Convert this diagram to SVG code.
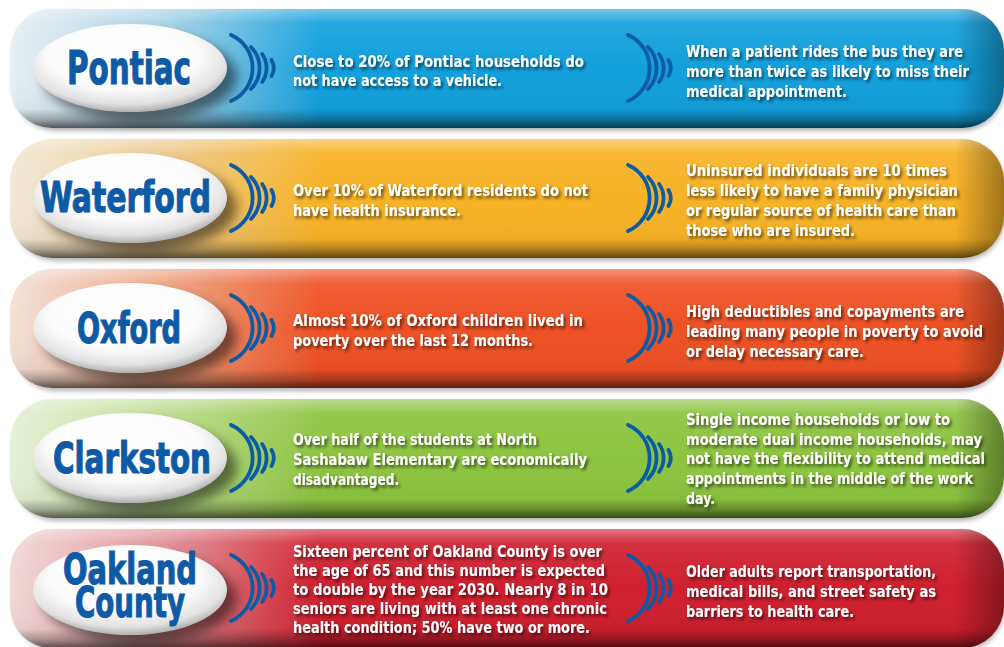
<svg xmlns="http://www.w3.org/2000/svg" xmlns:xlink="http://www.w3.org/1999/xlink" width="1004" height="647" viewBox="0 0 1004 647">
<style>
.t{fill:#fff;font-family:"Liberation Sans Narrow","DejaVu Sans Condensed","Liberation Sans",Arial,sans-serif;font-stretch:condensed;font-weight:bold;font-size:16.5px}
.h{fill:#0d5ba6;stroke:#0d5ba6;stroke-width:1.1;font-family:"Liberation Sans Narrow","DejaVu Sans Condensed","Liberation Sans",Arial,sans-serif;font-stretch:condensed;font-weight:bold}
.shade{fill:url(#gV)}
.rend{fill:url(#gR)}
.ell{fill:url(#gEl)}
.eshadow{fill:#000;opacity:0.5;filter:url(#blur)}
.bshadow{fill:#000;opacity:0.3;filter:url(#blur2)}
.sig path{fill:none;stroke:#0b5ca4;stroke-width:3.8;stroke-linecap:round}
</style>
<defs>
<filter id="ts" x="-5%" y="-40%" width="115%" height="200%"><feDropShadow dx="2" dy="2.5" stdDeviation="1.6" flood-color="#000" flood-opacity="0.6"/></filter>
<filter id="blur" x="-30%" y="-40%" width="160%" height="180%"><feGaussianBlur stdDeviation="6"/></filter>
<filter id="blur2" x="-5%" y="-20%" width="110%" height="140%"><feGaussianBlur stdDeviation="2.5"/></filter>
<linearGradient id="gV" x1="0" y1="0" x2="0" y2="1">
<stop offset="0" stop-color="#fff" stop-opacity="0.4"/>
<stop offset="0.12" stop-color="#fff" stop-opacity="0.08"/>
<stop offset="0.5" stop-color="#fff" stop-opacity="0"/>
<stop offset="0.84" stop-color="#000" stop-opacity="0.04"/>
<stop offset="0.93" stop-color="#000" stop-opacity="0.3"/>
<stop offset="1" stop-color="#000" stop-opacity="0.62"/>
</linearGradient>
<linearGradient id="gR" gradientUnits="userSpaceOnUse" x1="955" y1="0" x2="1004" y2="0">
<stop offset="0" stop-color="#000" stop-opacity="0"/>
<stop offset="1" stop-color="#000" stop-opacity="0.35"/>
</linearGradient>
<radialGradient id="gEl" cx="0.48" cy="0.4" r="0.62" fx="0.45" fy="0.28">
<stop offset="0" stop-color="#fff"/>
<stop offset="0.62" stop-color="#fcfcfc"/>
<stop offset="0.85" stop-color="#e2e2e2"/>
<stop offset="1" stop-color="#a4a4a4"/>
</radialGradient>
<linearGradient id="g1" gradientUnits="userSpaceOnUse" x1="10" y1="0" x2="320" y2="0">
<stop offset="0" stop-color="#e8eff2"/><stop offset="0.5" stop-color="#a6d1e5"/><stop offset="1" stop-color="#12a0dc"/>
</linearGradient>
<linearGradient id="g2" gradientUnits="userSpaceOnUse" x1="10" y1="0" x2="320" y2="0">
<stop offset="0" stop-color="#f1e8d6"/><stop offset="0.5" stop-color="#ecc98a"/><stop offset="1" stop-color="#f7b226"/>
</linearGradient>
<linearGradient id="g3" gradientUnits="userSpaceOnUse" x1="10" y1="0" x2="320" y2="0">
<stop offset="0" stop-color="#f3e0d6"/><stop offset="0.5" stop-color="#eca27f"/><stop offset="1" stop-color="#ee5124"/>
</linearGradient>
<linearGradient id="g4" gradientUnits="userSpaceOnUse" x1="10" y1="0" x2="320" y2="0">
<stop offset="0" stop-color="#e6f0d8"/><stop offset="0.5" stop-color="#bcdb8e"/><stop offset="1" stop-color="#8cc43f"/>
</linearGradient>
<linearGradient id="g5" gradientUnits="userSpaceOnUse" x1="10" y1="0" x2="320" y2="0">
<stop offset="0" stop-color="#f2d8d8"/><stop offset="0.5" stop-color="#de8e92"/><stop offset="1" stop-color="#cf1f2e"/>
</linearGradient>
<g id="sig" class="sig">
<path d="M0,-33 A36,36 0 0 1 0,33"/>
<path d="M20,-21 A30,30 0 0 1 20,21"/>
<path d="M31.1,-14 A24,24 0 0 1 31.1,14"/>
<path d="M40.5,-8 A16,16 0 0 1 40.5,8"/>
</g>
</defs>
<rect width="1004" height="647" fill="#fff"/>

<g id="row-pontiac">
<rect class="bshadow" x="14" y="12" width="990" height="119" rx="42"/>
<rect x="10" y="9" width="994" height="119" rx="42" fill="url(#g1)"/>
<rect class="shade" x="10" y="9" width="994" height="119" rx="42"/>
<rect class="rend" x="10" y="9" width="994" height="119" rx="42"/>
<g id="node-pontiac">
<ellipse class="eshadow" cx="140" cy="77" rx="97" ry="44"/>
<ellipse class="ell" cx="130" cy="68" rx="97" ry="44"/>
<text class="h" x="67" y="84" font-size="46" textLength="124" lengthAdjust="spacingAndGlyphs">Pontiac</text>
</g>
<g id="text-pontiac" filter="url(#ts)">
<text class="t" x="293" y="66.5" textLength="291" lengthAdjust="spacingAndGlyphs">Close to 20% of Pontiac households do</text>
<text class="t" x="293" y="86" textLength="209" lengthAdjust="spacingAndGlyphs">not have access to a vehicle.</text>
<text class="t" x="686" y="57" textLength="277" lengthAdjust="spacingAndGlyphs">When a patient rides the bus they are</text>
<text class="t" x="686" y="77" textLength="283" lengthAdjust="spacingAndGlyphs">more than twice as likely to miss their</text>
<text class="t" x="686" y="96.5" textLength="161" lengthAdjust="spacingAndGlyphs">medical appointment.</text>
</g>
</g>

<g id="row-waterford">
<rect class="bshadow" x="14" y="142" width="990" height="119" rx="42"/>
<rect x="10" y="139" width="994" height="119" rx="42" fill="url(#g2)"/>
<rect class="shade" x="10" y="139" width="994" height="119" rx="42"/>
<rect class="rend" x="10" y="139" width="994" height="119" rx="42"/>
<g id="node-waterford">
<ellipse class="eshadow" cx="140" cy="207" rx="97" ry="44"/>
<ellipse class="ell" cx="130" cy="198" rx="97" ry="45"/>
<text class="h" x="40" y="212" font-size="42" textLength="171" lengthAdjust="spacingAndGlyphs">Waterford</text>
</g>
<g id="text-waterford" filter="url(#ts)">
<text class="t" x="293" y="196" textLength="295" lengthAdjust="spacingAndGlyphs">Over 10% of Waterford residents do not</text>
<text class="t" x="293" y="215.5" textLength="168" lengthAdjust="spacingAndGlyphs">have health insurance.</text>
<text class="t" x="686" y="176" textLength="261" lengthAdjust="spacingAndGlyphs">Uninsured individuals are 10 times</text>
<text class="t" x="686" y="196" textLength="272" lengthAdjust="spacingAndGlyphs">less likely to have a family physician</text>
<text class="t" x="686" y="216" textLength="270" lengthAdjust="spacingAndGlyphs">or regular source of health care than</text>
<text class="t" x="686" y="235.5" textLength="169" lengthAdjust="spacingAndGlyphs">those who are insured.</text>
</g>
</g>

<g id="row-oxford">
<rect class="bshadow" x="14" y="272" width="990" height="119" rx="42"/>
<rect x="10" y="269" width="994" height="119" rx="42" fill="url(#g3)"/>
<rect class="shade" x="10" y="269" width="994" height="119" rx="42"/>
<rect class="rend" x="10" y="269" width="994" height="119" rx="42"/>
<g id="node-oxford">
<ellipse class="eshadow" cx="140" cy="337" rx="97" ry="44"/>
<ellipse class="ell" cx="130" cy="328" rx="97" ry="45"/>
<text class="h" x="77" y="343" font-size="42" textLength="104" lengthAdjust="spacingAndGlyphs">Oxford</text>
</g>
<g id="text-oxford" filter="url(#ts)">
<text class="t" x="293" y="326" textLength="290" lengthAdjust="spacingAndGlyphs">Almost 10% of Oxford children lived in</text>
<text class="t" x="293" y="345.5" textLength="240" lengthAdjust="spacingAndGlyphs">poverty over the last 12 months.</text>
<text class="t" x="686" y="317" textLength="278" lengthAdjust="spacingAndGlyphs">High deductibles and copayments are</text>
<text class="t" x="686" y="337" textLength="297" lengthAdjust="spacingAndGlyphs">leading many people in poverty to avoid</text>
<text class="t" x="686" y="356.5" textLength="178" lengthAdjust="spacingAndGlyphs">or delay necessary care.</text>
</g>
</g>

<g id="row-clarkston">
<rect class="bshadow" x="14" y="402" width="990" height="119" rx="42"/>
<rect x="10" y="399" width="994" height="119" rx="42" fill="url(#g4)"/>
<rect class="shade" x="10" y="399" width="994" height="119" rx="42"/>
<rect class="rend" x="10" y="399" width="994" height="119" rx="42"/>
<g id="node-clarkston">
<ellipse class="eshadow" cx="140" cy="467" rx="97" ry="44"/>
<ellipse class="ell" cx="130" cy="458" rx="97" ry="45"/>
<text class="h" x="53" y="473" font-size="42" textLength="158" lengthAdjust="spacingAndGlyphs">Clarkston</text>
</g>
<g id="text-clarkston" filter="url(#ts)">
<text class="t" x="293" y="445" textLength="244" lengthAdjust="spacingAndGlyphs">Over half of the students at North</text>
<text class="t" x="293" y="465" textLength="294" lengthAdjust="spacingAndGlyphs">Sashabaw Elementary are economically</text>
<text class="t" x="293" y="484.5" textLength="106" lengthAdjust="spacingAndGlyphs">disadvantaged.</text>
<text class="t" x="686" y="425" textLength="264" lengthAdjust="spacingAndGlyphs">Single income households or low to</text>
<text class="t" x="686" y="444.5" textLength="296" lengthAdjust="spacingAndGlyphs">moderate dual income households, may</text>
<text class="t" x="686" y="464" textLength="299" lengthAdjust="spacingAndGlyphs">not have the flexibility to attend medical</text>
<text class="t" x="686" y="484" textLength="287" lengthAdjust="spacingAndGlyphs">appointments in the middle of the work</text>
<text class="t" x="686" y="503.5" textLength="29" lengthAdjust="spacingAndGlyphs">day.</text>
</g>
</g>

<g id="row-oakland">
<rect class="bshadow" x="14" y="532" width="990" height="119" rx="42"/>
<rect x="10" y="529" width="994" height="119" rx="42" fill="url(#g5)"/>
<rect class="shade" x="10" y="529" width="994" height="119" rx="42"/>
<rect class="rend" x="10" y="529" width="994" height="119" rx="42"/>
<g id="node-oakland">
<ellipse class="eshadow" cx="140" cy="599" rx="97" ry="44"/>
<ellipse class="ell" cx="130" cy="590" rx="97" ry="45"/>
<text class="h" x="63" y="584" font-size="43" textLength="134" lengthAdjust="spacingAndGlyphs">Oakland</text>
<text class="h" x="75" y="617" font-size="43" textLength="110" lengthAdjust="spacingAndGlyphs">County</text>
</g>
<g id="text-oakland" filter="url(#ts)">
<text class="t" x="293" y="557" textLength="309" lengthAdjust="spacingAndGlyphs">Sixteen percent of Oakland County is over</text>
<text class="t" x="293" y="576" textLength="312" lengthAdjust="spacingAndGlyphs">the age of 65 and this number is expected</text>
<text class="t" x="293" y="595" textLength="315" lengthAdjust="spacingAndGlyphs">to double by the year 2030. Nearly 8 in 10</text>
<text class="t" x="293" y="614" textLength="314" lengthAdjust="spacingAndGlyphs">seniors are living with at least one chronic</text>
<text class="t" x="293" y="633" textLength="297" lengthAdjust="spacingAndGlyphs">health condition; 50% have two or more.</text>
<text class="t" x="686" y="577" textLength="250" lengthAdjust="spacingAndGlyphs">Older adults report transportation,</text>
<text class="t" x="686" y="597" textLength="250" lengthAdjust="spacingAndGlyphs">medical bills, and street safety as</text>
<text class="t" x="686" y="617" textLength="168" lengthAdjust="spacingAndGlyphs">barriers to health care.</text>
</g>
</g>

<g id="connectors">
<use href="#sig" xlink:href="#sig" x="231" y="68"/>
<use href="#sig" xlink:href="#sig" x="628" y="68"/>
<use href="#sig" xlink:href="#sig" x="231" y="198"/>
<use href="#sig" xlink:href="#sig" x="628" y="198"/>
<use href="#sig" xlink:href="#sig" x="231" y="328"/>
<use href="#sig" xlink:href="#sig" x="628" y="328"/>
<use href="#sig" xlink:href="#sig" x="231" y="458"/>
<use href="#sig" xlink:href="#sig" x="628" y="458"/>
<use href="#sig" xlink:href="#sig" x="231" y="588"/>
<use href="#sig" xlink:href="#sig" x="628" y="588"/>
</g>
</svg>
